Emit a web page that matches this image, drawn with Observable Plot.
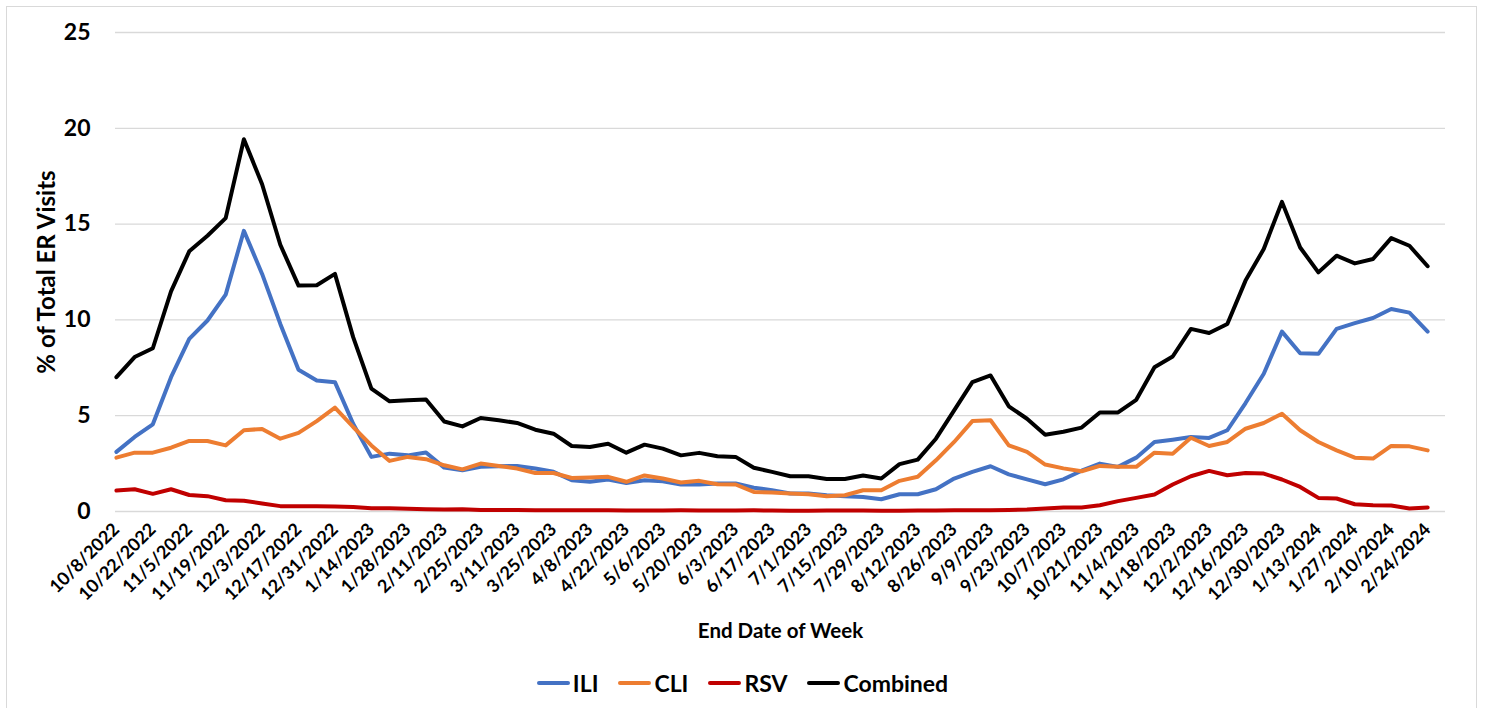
<!DOCTYPE html>
<html>
<head>
<meta charset="utf-8">
<script src="https://cdn.jsdelivr.net/npm/d3@7"></script>
<script src="https://cdn.jsdelivr.net/npm/@observablehq/plot@0.6"></script>
<style>
  html, body { margin: 0; padding: 0; background: #fff; }
  body { width: 1485px; height: 708px; overflow: hidden; position: relative; font-family: Lato, "Open Sans", sans-serif; }
  #frame { position: absolute; left: 6px; top: 6px; width: 1471px; height: 720px; border: 1px solid #d9d9d9; box-sizing: border-box; pointer-events: none; }
  #chart { position: absolute; left: 0; top: 0; }
  #legend { position: absolute; left: 0; top: 660px; width: 1485px; height: 46px; display: flex; justify-content: center; align-items: center; gap: 20px; font-weight: 700; font-size: 23px; color: #000; }
  .item { display: flex; align-items: center; gap: 3px; }
  .sw { width: 33px; height: 4px; border-radius: 2px; }
</style>
</head>
<body>
<div id="chart"></div>
<div id="legend"></div>
<div id="frame"></div>
<script>
const weeks = [
  "10/8/2022","10/15/2022","10/22/2022","10/29/2022","11/5/2022","11/12/2022","11/19/2022","11/26/2022","12/3/2022","12/10/2022","12/17/2022","12/24/2022","12/31/2022",
  "1/7/2023","1/14/2023","1/21/2023","1/28/2023","2/4/2023","2/11/2023","2/18/2023","2/25/2023","3/4/2023","3/11/2023","3/18/2023","3/25/2023","4/1/2023","4/8/2023","4/15/2023","4/22/2023","4/29/2023","5/6/2023","5/13/2023","5/20/2023","5/27/2023","6/3/2023","6/10/2023","6/17/2023","6/24/2023","7/1/2023","7/8/2023","7/15/2023","7/22/2023","7/29/2023","8/5/2023","8/12/2023","8/19/2023","8/26/2023","9/2/2023","9/9/2023","9/16/2023","9/23/2023","9/30/2023","10/7/2023","10/14/2023","10/21/2023","10/28/2023","11/4/2023","11/11/2023","11/18/2023","11/25/2023","12/2/2023","12/9/2023","12/16/2023","12/23/2023","12/30/2023",
  "1/6/2024","1/13/2024","1/20/2024","1/27/2024","2/3/2024","2/10/2024","2/17/2024","2/24/2024"
];
const tickLabels = [
  "10/8/2022","10/22/2022","11/5/2022","11/19/2022","12/3/2022","12/17/2022","12/31/2022","1/14/2023","1/28/2023","2/11/2023","2/25/2023","3/11/2023","3/25/2023","4/8/2023","4/22/2023","5/6/2023","5/20/2023","6/3/2023","6/17/2023","7/1/2023","7/15/2023","7/29/2023","8/12/2023","8/26/2023","9/9/2023","9/23/2023","10/7/2023","10/21/2023","11/4/2023","11/18/2023","12/2/2023","12/16/2023","12/30/2023","1/13/2024","1/27/2024","2/10/2024","2/24/2024"
];
const ili = [3.11,3.89,4.55,7.01,9.01,9.97,11.32,14.65,12.40,9.79,7.40,6.84,6.75,4.58,2.85,3.02,2.93,3.08,2.29,2.15,2.33,2.36,2.38,2.24,2.07,1.63,1.55,1.67,1.49,1.63,1.58,1.41,1.41,1.46,1.46,1.24,1.11,0.94,0.94,0.85,0.80,0.76,0.64,0.90,0.90,1.16,1.72,2.07,2.36,1.94,1.68,1.42,1.68,2.13,2.50,2.33,2.81,3.63,3.75,3.89,3.84,4.24,5.66,7.19,9.39,8.26,8.23,9.53,9.83,10.10,10.57,10.38,9.39];
const cli = [2.81,3.07,3.07,3.33,3.68,3.68,3.45,4.24,4.31,3.80,4.10,4.72,5.42,4.41,3.45,2.64,2.85,2.73,2.41,2.20,2.50,2.38,2.24,2.01,2.01,1.75,1.77,1.81,1.55,1.88,1.72,1.51,1.60,1.42,1.41,1.02,0.99,0.94,0.90,0.80,0.85,1.11,1.11,1.60,1.81,2.67,3.63,4.72,4.76,3.45,3.11,2.45,2.25,2.10,2.38,2.33,2.33,3.07,3.02,3.85,3.42,3.63,4.32,4.62,5.10,4.24,3.63,3.19,2.81,2.76,3.42,3.40,3.19];
const rsv = [1.09,1.16,0.92,1.16,0.86,0.80,0.59,0.56,0.42,0.28,0.28,0.27,0.26,0.24,0.17,0.17,0.14,0.12,0.10,0.12,0.08,0.08,0.08,0.07,0.07,0.06,0.07,0.06,0.05,0.05,0.05,0.06,0.05,0.05,0.05,0.06,0.05,0.04,0.04,0.05,0.05,0.05,0.04,0.04,0.05,0.05,0.06,0.06,0.06,0.08,0.10,0.16,0.21,0.21,0.33,0.54,0.71,0.89,1.41,1.84,2.12,1.89,2.01,1.98,1.67,1.28,0.71,0.68,0.38,0.33,0.31,0.16,0.21];
const combined = [7.01,8.06,8.52,11.49,13.58,14.39,15.31,19.43,17.08,13.92,11.79,11.81,12.40,9.10,6.41,5.75,5.80,5.85,4.70,4.44,4.88,4.76,4.62,4.27,4.06,3.42,3.37,3.54,3.07,3.49,3.28,2.93,3.06,2.88,2.85,2.28,2.07,1.84,1.84,1.70,1.70,1.88,1.72,2.47,2.71,3.80,5.28,6.75,7.10,5.49,4.84,4.01,4.16,4.38,5.17,5.17,5.83,7.53,8.09,9.53,9.32,9.79,12.05,13.70,16.16,13.78,12.48,13.35,12.95,13.18,14.27,13.87,12.80];
const seriesNames = ["ILI","CLI","RSV","Combined"];
const seriesColors = ["#4472C4","#ED7D31","#C00000","#000000"];
const yTicks = [0,5,10,15,20,25];

const seriesValues = [ili, cli, rsv, combined];
const data = [];
seriesNames.forEach((name, s) => {
  weeks.forEach((w, i) => data.push({idx: i, week: w, value: seriesValues[s][i], series: name}));
});
const tickIdx = tickLabels.map(l => weeks.indexOf(l));

const font = "Lato, 'Open Sans', sans-serif";
const chart = Plot.plot({
  width: 1485,
  height: 660,
  marginLeft: 115,
  marginRight: 40,
  marginTop: 32,
  marginBottom: 149,
  style: {fontFamily: font, fontWeight: 700, color: "#000", background: "transparent"},
  x: {type: "linear", domain: [-0.05, 72.98]},
  y: {domain: [0, 25]},
  color: {domain: seriesNames, range: seriesColors},
  marks: [
    Plot.gridY(yTicks, {stroke: "#d9d9d9", strokeOpacity: 1, strokeWidth: 1.3}),
    Plot.axisY(yTicks, {tickSize: 0, tickPadding: 25, fontSize: 23, label: null}),
    Plot.axisX(tickIdx, {tickSize: 0, tickPadding: 15, tickRotate: -45, fontSize: 18, label: null, tickFormat: i => weeks[i]}),
    Plot.text(["% of Total ER Visits"], {frameAnchor: "left", textAnchor: "middle", lineAnchor: "middle", dx: -68, rotate: -90, fontSize: 24, fontWeight: 700}),
    Plot.text(["End Date of Week"], {frameAnchor: "bottom", textAnchor: "middle", dy: 126, fontSize: 20.5, fontWeight: 700}),
    Plot.line(data, {x: "idx", y: "value", z: "series", stroke: "series", strokeWidth: 4, strokeLinejoin: "round", strokeLinecap: "round"})
  ]
});
document.getElementById("chart").appendChild(chart);

const legend = document.getElementById("legend");
seriesNames.forEach((name, i) => {
  const item = document.createElement("div");
  item.className = "item";
  const sw = document.createElement("span");
  sw.className = "sw";
  sw.style.background = seriesColors[i];
  const t = document.createElement("span");
  t.textContent = name;
  item.appendChild(sw);
  item.appendChild(t);
  legend.appendChild(item);
});
</script>
</body>
</html>
